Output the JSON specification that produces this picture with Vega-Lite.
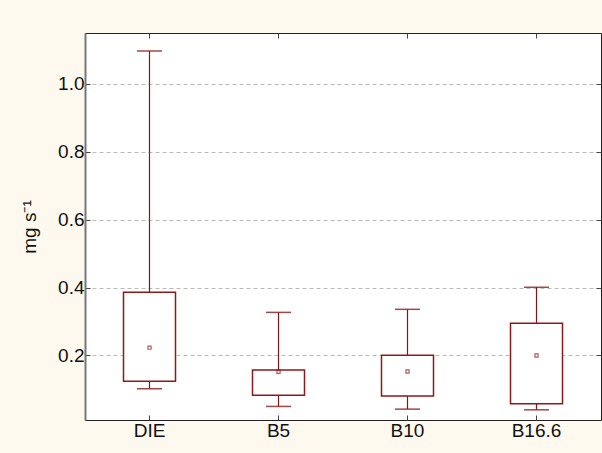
{
  "$schema": "https://vega.github.io/schema/vega-lite/v6.json",
  "width": 516,
  "height": 387,
  "autosize": {"type": "none"},
  "padding": {"left": 85, "top": 33, "right": 1, "bottom": 33},
  "background": "#fdf9ef",
  "config": {
    "view": {"fill": "white", "stroke": "#222", "strokeWidth": 1},
    "font": "Liberation Sans",
    "axis": {"labelFont": "Liberation Sans", "titleFont": "Liberation Sans", "labelColor": "#111", "titleColor": "#111", "titleFontWeight": "normal", "labelFontSize": 19, "titleFontSize": 19}
  },
  "data": {
    "values": [
      {"group": "DIE", "lo": 0.102, "q1": 0.124, "mid": 0.223, "q3": 0.386, "hi": 1.097},
      {"group": "B5", "lo": 0.05, "q1": 0.083, "mid": 0.152, "q3": 0.157, "hi": 0.327},
      {"group": "B10", "lo": 0.042, "q1": 0.081, "mid": 0.153, "q3": 0.201, "hi": 0.336},
      {"group": "B16.6", "lo": 0.04, "q1": 0.058, "mid": 0.2, "q3": 0.295, "hi": 0.401}
    ]
  },
  "layer": [
    {
      "mark": {"type": "rule", "color": "#861414", "strokeWidth": 1.2},
      "encoding": {
        "x": {
          "field": "group", "type": "nominal", "sort": ["DIE", "B5", "B10", "B16.6"],
          "scale": {"paddingInner": 0, "paddingOuter": 0},
          "axis": {"orient": "bottom", "title": null, "labelAngle": 0, "labelFontSize": 19, "labelPadding": 6, "tickSize": -5, "tickColor": "#444", "domain": false, "grid": false}
        },
        "y": {
          "field": "lo", "type": "quantitative",
          "scale": {"domain": [0.01, 1.15], "nice": false, "zero": false},
          "axis": {"orient": "left", "values": [0.2, 0.4, 0.6, 0.8, 1.0], "format": ".1f", "labelFontSize": 19, "labelPadding": 6, "tickSize": -5, "tickColor": "#444", "domain": true, "domainColor": "#777", "domainWidth": 2, "grid": true, "gridColor": "#bbbbbb", "gridDash": [4, 3], "gridWidth": 1, "title": "mg s⁻¹", "titleFontSize": 19, "titlePadding": 18}
        },
        "y2": {"field": "hi"}
      }
    },
    {
      "mark": {"type": "tick", "color": "#8b1a1a", "thickness": 1.5, "size": 25, "opacity": 0.8},
      "encoding": {
        "x": {"field": "group", "type": "nominal", "sort": ["DIE", "B5", "B10", "B16.6"], "axis": null},
        "y": {"field": "lo", "type": "quantitative", "axis": null}
      }
    },
    {
      "mark": {"type": "tick", "color": "#8b1a1a", "thickness": 1.5, "size": 25, "opacity": 0.8},
      "encoding": {
        "x": {"field": "group", "type": "nominal", "sort": ["DIE", "B5", "B10", "B16.6"], "axis": null},
        "y": {"field": "hi", "type": "quantitative", "axis": null}
      }
    },
    {
      "mark": {"type": "bar", "fill": "white", "stroke": "#8b1a1a", "strokeWidth": 1.5, "width": 52},
      "encoding": {
        "x": {"field": "group", "type": "nominal", "sort": ["DIE", "B5", "B10", "B16.6"], "axis": null},
        "y": {"field": "q1", "type": "quantitative", "axis": null},
        "y2": {"field": "q3"}
      }
    },
    {
      "mark": {"type": "point", "shape": "square", "size": 10, "filled": false, "color": "#8b1a1a", "strokeWidth": 1.2},
      "encoding": {
        "x": {"field": "group", "type": "nominal", "sort": ["DIE", "B5", "B10", "B16.6"], "axis": null},
        "y": {"field": "mid", "type": "quantitative", "axis": null}
      }
    },
    {
      "mark": {"type": "rule", "opacity": 0},
      "encoding": {
        "x": {
          "field": "group", "type": "nominal", "sort": ["DIE", "B5", "B10", "B16.6"],
          "axis": {"orient": "top", "title": null, "labels": false, "tickSize": -5, "tickColor": "#444", "domain": false, "grid": false}
        },
        "y": {
          "field": "mid", "type": "quantitative",
          "axis": {"orient": "right", "title": null, "labels": false, "values": [0.2, 0.4, 0.6, 0.8, 1.0], "tickSize": -5, "tickColor": "#444", "domain": false, "grid": false}
        }
      }
    }
  ],
  "resolve": {"axis": {"x": "independent", "y": "independent"}}
}
